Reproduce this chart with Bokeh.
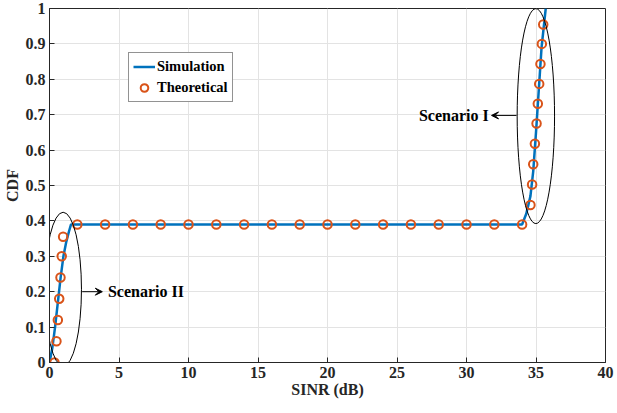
from bokeh.plotting import figure
from bokeh.models import (Legend, LegendItem, Arrow, VeeHead, FixedTicker,
                          CustomJSTickFormatter, Range1d)
from bokeh.core.properties import value
from bokeh.embed import file_html
from bokeh.resources import INLINE

# Simulation CDF curve
sim_sinr = [0, 0.2, 0.4, 0.6, 0.8, 1.0, 1.2, 1.4, 1.55, 34.0, 34.3, 34.6, 34.8, 35.0, 35.2, 35.4, 35.7]
sim_cdf = [0, 0.04, 0.10, 0.17, 0.24, 0.30, 0.34, 0.37, 0.39, 0.39, 0.42, 0.47, 0.54, 0.65, 0.77, 0.89, 1.0]

# Theoretical points
theo_sinr = [0.36, 0.5, 0.6, 0.7, 0.79, 0.88, 0.98,
             2, 4, 6, 8, 10, 12, 14, 16, 18, 20, 22, 24, 26, 28, 30, 32, 34,
             34.6, 34.72, 34.8, 34.92, 35.04, 35.13, 35.23, 35.32, 35.42, 35.52]
theo_cdf = [0.0, 0.06, 0.12, 0.18, 0.24, 0.30, 0.355,
            0.39, 0.39, 0.39, 0.39, 0.39, 0.39, 0.39, 0.39, 0.39, 0.39, 0.39, 0.39, 0.39, 0.39, 0.39, 0.39, 0.39,
            0.445, 0.503, 0.56, 0.618, 0.675, 0.731, 0.787, 0.843, 0.90, 0.955]

x_ticks = [0, 5, 10, 15, 20, 25, 30, 35, 40]
y_ticks = [0, 0.1, 0.2, 0.3, 0.4, 0.5, 0.6, 0.7, 0.8, 0.9, 1.0]

FONT = "Liberation Serif"

p = figure(width=617, height=413, output_backend="svg", toolbar_location=None,
           x_range=Range1d(0, 40), y_range=Range1d(0, 1),
           min_border_left=49, min_border_right=12, min_border_top=8, min_border_bottom=51)
p.background_fill_color = "white"
p.border_fill_color = "white"
p.outline_line_color = "#262626"
p.outline_line_width = 1

fmt = CustomJSTickFormatter(code="var s = tick.toFixed(1); return s.replace(/\\.0$/, '');")

for ax in p.xaxis + p.yaxis:
    ax.major_label_text_font = FONT
    ax.major_label_text_font_style = "bold"
    ax.major_label_text_font_size = "16px"
    ax.major_label_text_color = "#262626"
    ax.axis_label_text_font = FONT
    ax.axis_label_text_font_style = "bold"
    ax.axis_label_text_font_size = "16px"
    ax.axis_label_text_color = "#262626"
    ax.major_tick_in = 5
    ax.major_tick_out = 0
    ax.minor_tick_line_color = None
    ax.axis_line_color = "#262626"
    ax.major_tick_line_color = "#262626"

p.xaxis.ticker = FixedTicker(ticks=x_ticks)
p.yaxis.ticker = FixedTicker(ticks=y_ticks)
p.yaxis.formatter = fmt
p.xaxis.axis_label = "SINR (dB)"
p.yaxis.axis_label = "CDF"
p.xaxis.axis_label_standoff = 0
p.yaxis.axis_label_standoff = 2
p.xaxis.major_label_standoff = 4
p.yaxis.major_label_standoff = 4

p.xgrid.ticker = FixedTicker(ticks=x_ticks)
p.ygrid.ticker = FixedTicker(ticks=y_ticks)
p.grid.grid_line_color = "#E3E3E3"
p.grid.grid_line_width = 1

line_r = p.line(sim_sinr, sim_cdf, line_color="#0072BD", line_width=2.5)
circ_r = p.scatter(theo_sinr, theo_cdf, marker="circle", size=8.5, fill_color=None,
                   line_color="#D95319", line_width=2)

# Ellipses highlighting the scenarios
p.ellipse(x=[0.98, 34.99], y=[0.207, 0.696], width=[2.64, 2.69], height=[0.435, 0.608],
          fill_color=None, line_color="black", line_width=1)

p.add_layout(Arrow(end=VeeHead(size=7, line_color="black", line_width=1),
                   x_start=2.35, y_start=0.2, x_end=3.8, y_end=0.2,
                   line_color="black", line_width=1))
p.add_layout(Arrow(end=VeeHead(size=7, line_color="black", line_width=1),
                   x_start=33.6, y_start=0.698, x_end=31.8, y_end=0.698,
                   line_color="black", line_width=1))

p.text(x=[4.2], y=[0.2], text=["Scenario II"], text_font=value(FONT), text_font_style="bold",
       text_font_size="16px", text_baseline="middle", text_align="left", text_color="black")
p.text(x=[31.6], y=[0.698], text=["Scenario I"], text_font=value(FONT), text_font_style="bold",
       text_font_size="16px", text_baseline="middle", text_align="right", text_color="black")

legend = Legend(items=[LegendItem(label="Simulation", renderers=[line_r]),
                       LegendItem(label="Theoretical", renderers=[circ_r])],
                location=(79, 260))
legend.label_text_font = FONT
legend.label_text_font_style = "bold"
legend.label_text_font_size = "14.5px"
legend.label_text_color = "black"
legend.border_line_color = "#262626"
legend.border_line_width = 1
legend.padding = 4
legend.spacing = 2
legend.margin = 0
legend.glyph_width = 22
legend.label_standoff = 2
legend.label_height = 19
legend.glyph_height = 19
p.add_layout(legend)

open("out.html", "w").write(file_html(p, INLINE))
